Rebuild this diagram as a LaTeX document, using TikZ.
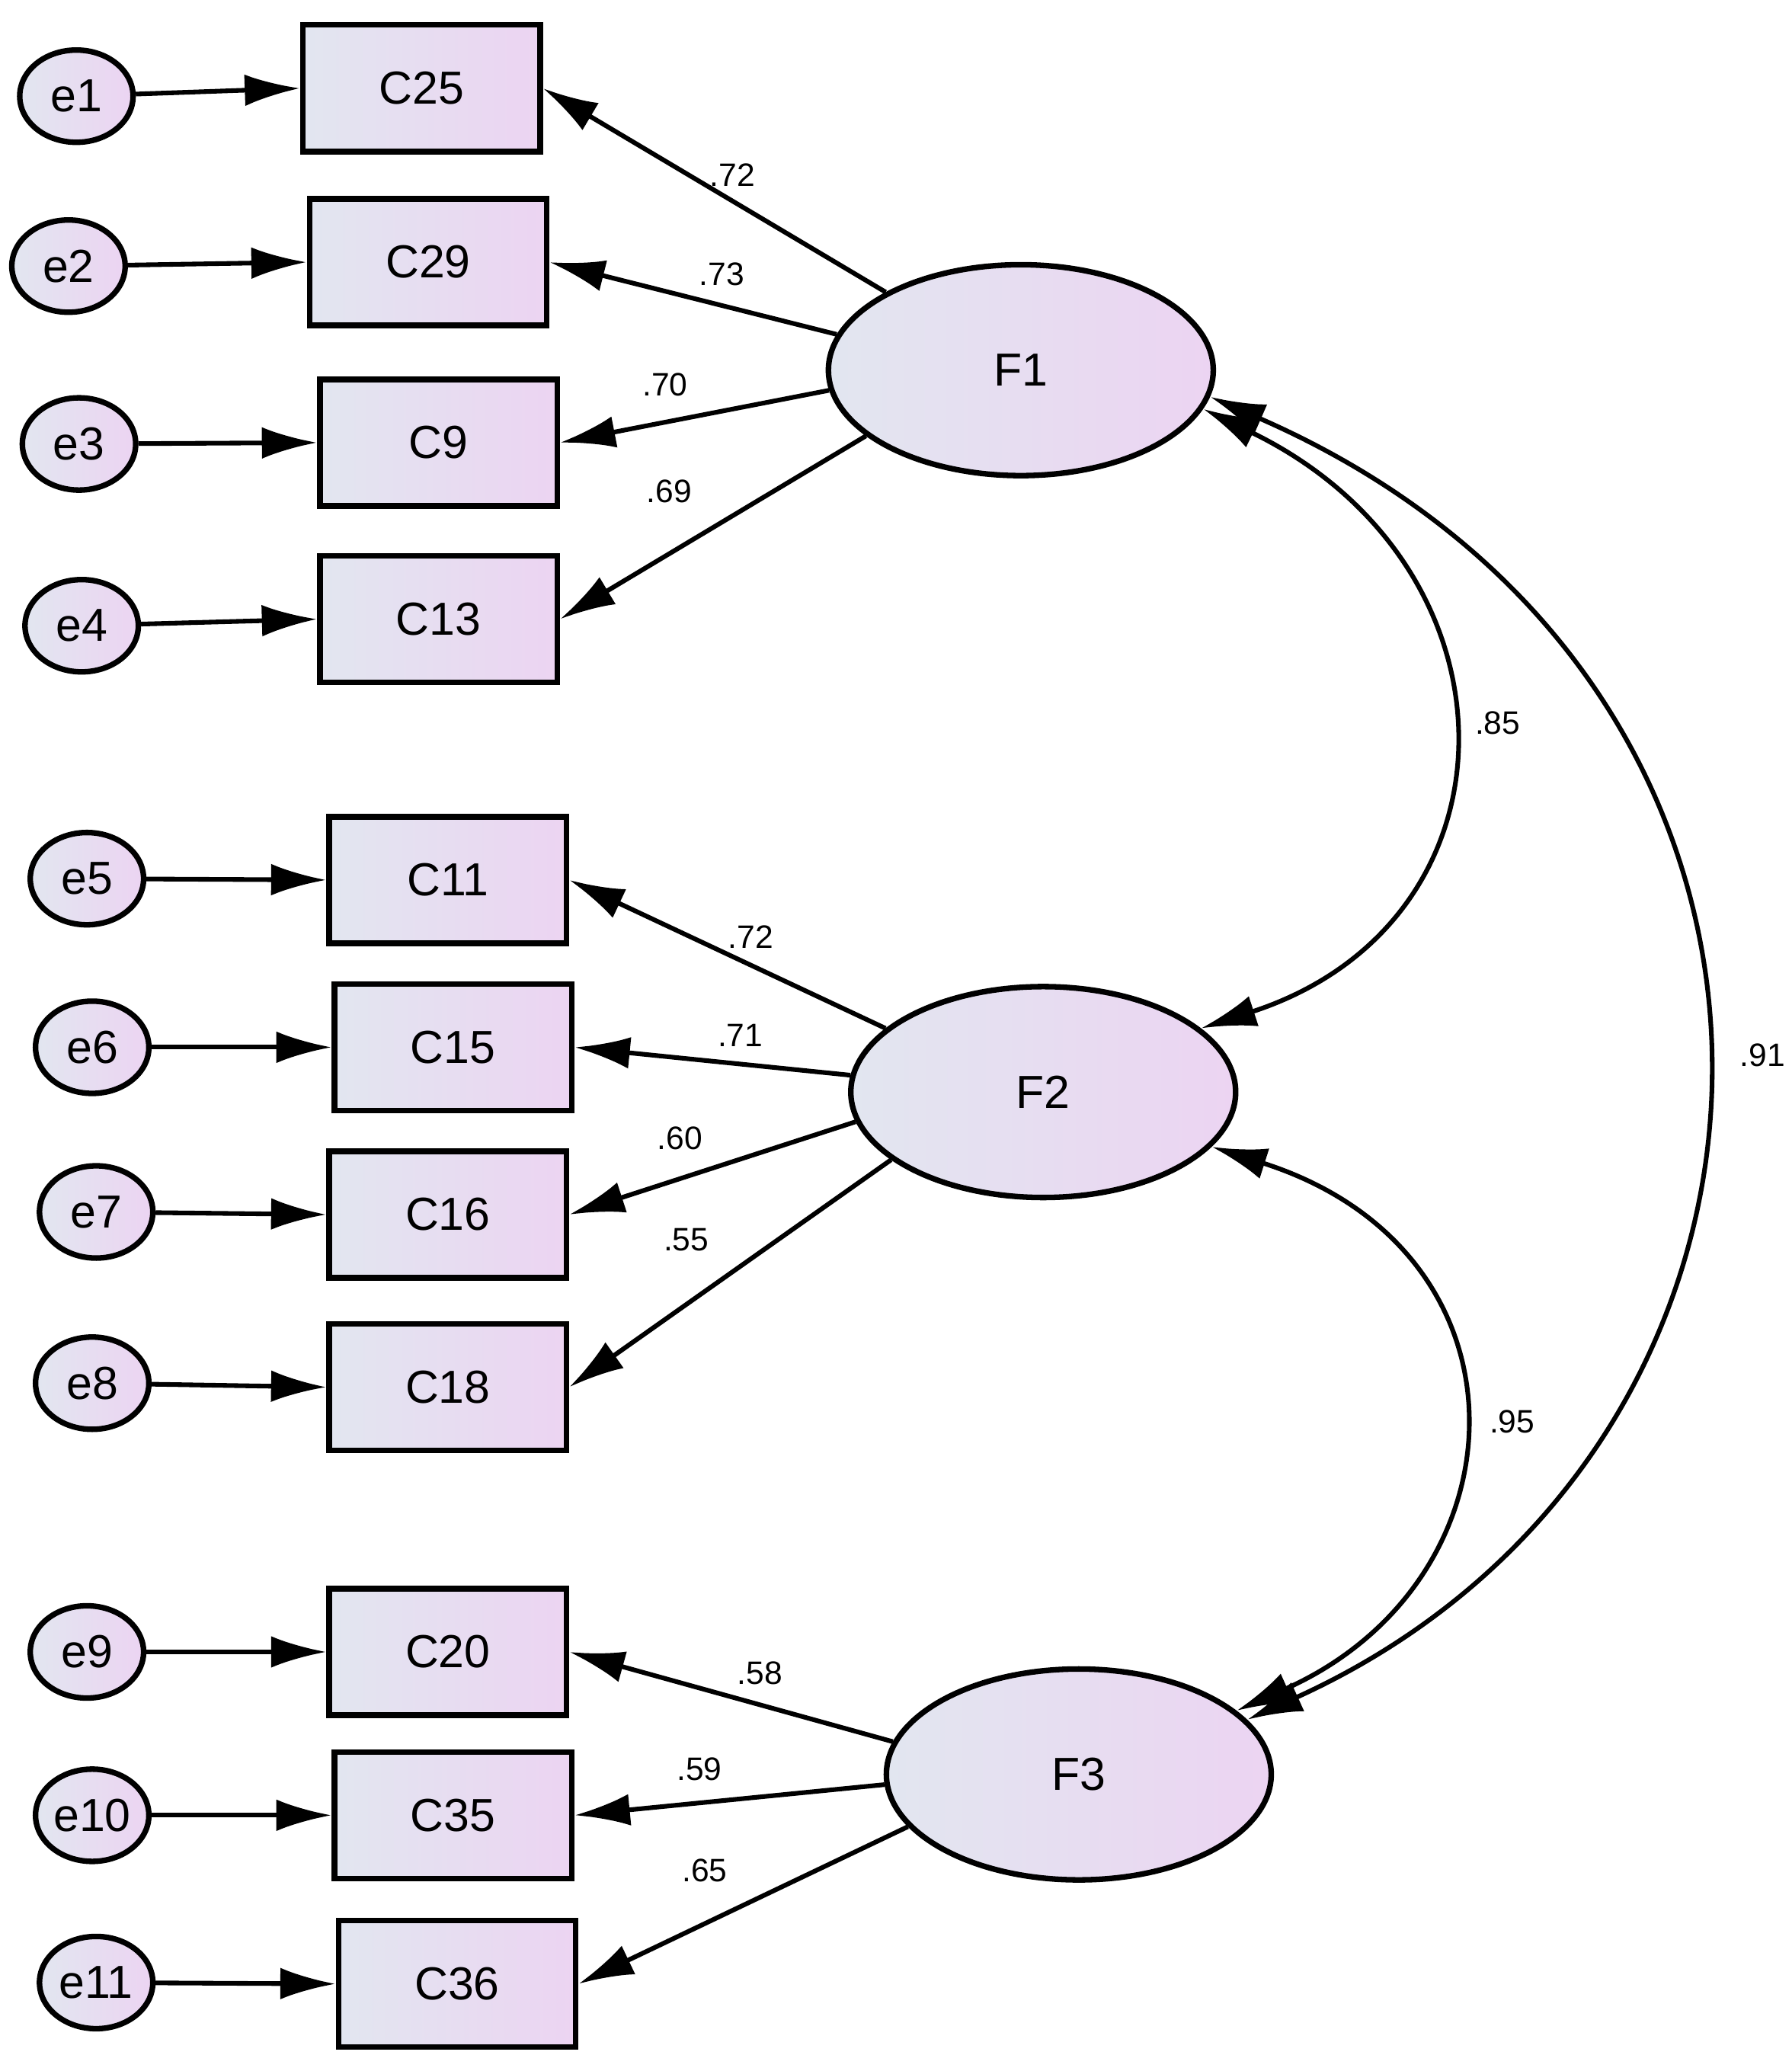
\documentclass[tikz,border=0pt]{standalone}
\usepackage{fontspec}
\setmainfont{Liberation Sans}
\usetikzlibrary{shapes.geometric, arrows.meta}
\usetikzlibrary{positioning}
\begin{document}
\begin{tikzpicture}[x=0.01cm,y=-0.01cm]

   %Styles of boxes and arrows
   \tikzstyle{item} = [rectangle, minimum width=1.8cm, minimum height=0.96cm, draw=black, line width=1.2pt, left color={rgb,255:red,226;green,230;blue,240}, right color={rgb,255:red,236;green,212;blue,242}, font=\fontsize{10}{12}\selectfont]
   \tikzstyle{err} = [ellipse, minimum width=0.86cm, minimum height=0.7cm, inner sep=0pt, draw=black, line width=1.2pt, left color={rgb,255:red,226;green,230;blue,240}, right color={rgb,255:red,236;green,212;blue,242}, font=\fontsize{10}{12}\selectfont]
   \tikzstyle{factor} = [ellipse, minimum width=2.92cm, minimum height=1.6cm, draw=black, line width=1.2pt, left color={rgb,255:red,226;green,230;blue,240}, right color={rgb,255:red,236;green,212;blue,242}, font=\fontsize{10}{12}\selectfont]
   \tikzstyle{arrow} = [line width=1pt,-{Latex[length=0.42cm,width=0.24cm]}]
   \tikzstyle{corr} = [line width=1pt,{Latex[length=0.42cm,width=0.24cm]}-{Latex[length=0.42cm,width=0.24cm]}]
   \tikzstyle{coef} = [font=\fontsize{7}{8}\selectfont]

   \useasboundingbox (0,0) rectangle (1360,1560);

   %Factors
   \node[factor] (F1) at (775,281) {F1};
   \node[factor] (F2) at (792,829) {F2};
   \node[factor] (F3) at (819,1347) {F3};

   %Boxes
   \node[item] (C25) at (320,67) {C25};
   \node[item] (C29) at (325,199) {C29};
   \node[item] (C9) at (333,336) {C9};
   \node[item] (C13) at (333,470) {C13};
   \node[item] (C11) at (340,668) {C11};
   \node[item] (C15) at (344,795) {C15};
   \node[item] (C16) at (340,922) {C16};
   \node[item] (C18) at (340,1053) {C18};
   \node[item] (C20) at (340,1254) {C20};
   \node[item] (C35) at (344,1378) {C35};
   \node[item] (C36) at (347,1506) {C36};

   %Errors
   \node[err] (e1) at (58,73) {e1};
   \node[err] (e2) at (52,202) {e2};
   \node[err] (e3) at (60,337) {e3};
   \node[err] (e4) at (62,475) {e4};
   \node[err] (e5) at (66,667) {e5};
   \node[err] (e6) at (70,795) {e6};
   \node[err] (e7) at (73,920) {e7};
   \node[err] (e8) at (70,1050) {e8};
   \node[err] (e9) at (66,1254) {e9};
   \node[err] (e10) at (70,1378) {e10};
   \node[err] (e11) at (73,1505) {e11};

   %Arrows
   \foreach \e/\c in {e1/C25,e2/C29,e3/C9,e4/C13,e5/C11,e6/C15,e7/C16,e8/C18,e9/C20,e10/C35,e11/C36}
      \draw[arrow] (\e) -- (\c.west);
   \foreach \a/\c in {150/C25,169/C29,186/C9,203/C13}
      \draw[arrow] (F1.\a) -- (\c.east);
   \foreach \a/\c in {158/C11,175/C15,189/C16,204/C18}
      \draw[arrow] (F2.\a) -- (\c.east);
   \foreach \a/\c in {170/C20,183/C35,197/C36}
      \draw[arrow] (F3.\a) -- (\c.east);

   \draw[corr] (F1.-12) .. controls (1160,430) and (1160,700) .. (F2.22);
   \draw[corr] (F2.-18) .. controls (1170,950) and (1160,1200) .. (F3.22);
   \draw[corr] (F1.-8) .. controls (1420,520) and (1400,1100) .. (F3.18);

   %Coefficients
   \node[coef] (l1) at (556,133) {.72};
   \node[coef] (l2) at (548,208) {.73};
   \node[coef] (l3) at (505,292) {.70};
   \node[coef] (l4) at (508,373) {.69};
   \node[coef] (l5) at (570,711) {.72};
   \node[coef] (l6) at (562,786) {.71};
   \node[coef] (l7) at (516,864) {.60};
   \node[coef] (l8) at (521,941) {.55};
   \node[coef] (l9) at (577,1270) {.58};
   \node[coef] (l10) at (531,1343) {.59};
   \node[coef] (l11) at (535,1420) {.65};
   \node[coef] (r1) at (1137,549) {.85};
   \node[coef] (r2) at (1338,801) {.91};
   \node[coef] (r3) at (1148,1079) {.95};

\end{tikzpicture}
\end{document}
